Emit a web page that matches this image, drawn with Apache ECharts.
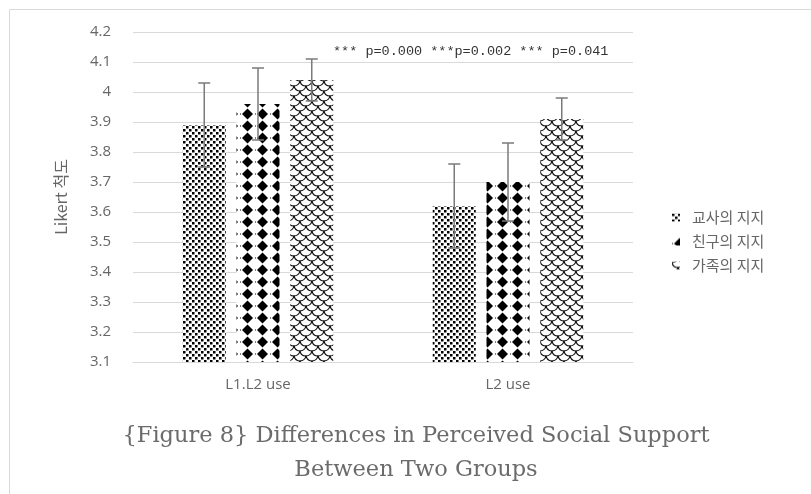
<!DOCTYPE html>
<html>
<head>
<meta charset="utf-8">
<script src="https://cdn.jsdelivr.net/npm/echarts@6/dist/echarts.min.js"></script>
<style>html,body{margin:0;padding:0;background:#fff;}#c{width:811px;height:494px;}</style>
</head>
<body>
<div id="c"></div>
<script>
const categories = ['L1.L2 use', 'L2 use'];
const seriesNames = ['교사의 지지', '친구의 지지', '가족의 지지'];
const teacherMeans = [3.89, 3.62];
const friendMeans = [3.96, 3.70];
const familyMeans = [4.04, 3.91];
const teacherErr = [0.14, 0.14];
const friendErr = [0.12, 0.13];
const familyErr = [0.07, 0.07];
const yTicks = { min: 3.1, max: 4.2, interval: 0.1 };
const annotation = '*** p=0.000 ***p=0.002 *** p=0.041';
const titleLines = ['{Figure 8} Differences in Perceived Social Support', 'Between Two Groups'];

function mk(w, h, draw) {
  const c = document.createElement('canvas');
  c.width = w; c.height = h;
  const g = c.getContext('2d');
  g.fillStyle = '#fff'; g.fillRect(0, 0, w, h);
  draw(g);
  return c;
}
const dotPat = mk(6, 6, g => {
  g.fillStyle = '#000';
  g.fillRect(0, 0, 2.5, 2.5);
  g.fillRect(3, 3, 2.5, 2.5);
});
const diamondPat = mk(15, 12, g => {
  g.fillStyle = '#000';
  g.beginPath();
  g.moveTo(7.5, 0.5); g.lineTo(13, 6); g.lineTo(7.5, 11.5); g.lineTo(2, 6); g.closePath();
  g.fill();
  g.fillRect(0, 5.5, 1, 1);
});
const scalePat = mk(12, 10, g => {
  g.strokeStyle = '#111'; g.lineWidth = 1.1;
  const cups = [[6, 0], [6, 10], [0, 5], [12, 5], [0, -5], [12, -5]];
  cups.forEach(([cx, cy]) => {
    g.beginPath(); g.arc(cx, cy, 6, 0.1, Math.PI - 0.1); g.stroke();
  });
});
const patterns = [dotPat, diamondPat, scalePat].map(c => ({ image: c, repeat: 'repeat' }));

const means = [teacherMeans, friendMeans, familyMeans];
const errs = [teacherErr, friendErr, familyErr];
const errData = [];
for (let s = 0; s < 3; s++) for (let i = 0; i < categories.length; i++) errData.push([i, s, means[s][i], errs[s][i]]);

const chart = echarts.init(document.getElementById('c'), null, { renderer: 'canvas' });
const barSeries = seriesNames.map((n, s) => ({
  name: n, type: 'bar', data: means[s],
  barWidth: '17.2%', barGap: '25%',
  itemStyle: { color: patterns[s] },
  z: 2
}));
chart.setOption({
  animation: false,
  backgroundColor: '#fff',
  grid: { left: 133, right: 178, top: 32, bottom: 132 },
  legend: {
    orient: 'vertical', left: 667, top: 205, itemGap: 9,
    itemWidth: 8, itemHeight: 8, icon: 'rect',
    data: seriesNames,
    textStyle: { color: '#666', fontSize: 15, fontFamily: 'Noto Sans CJK KR', padding: [0, 0, 0, 7] }
  },
  xAxis: {
    type: 'category', data: categories,
    axisLine: { lineStyle: { color: '#d9d9d9' } },
    axisTick: { show: false },
    axisLabel: { color: '#666', fontSize: 15, margin: 15, fontFamily: 'Open Sans' }
  },
  yAxis: {
    type: 'value', min: yTicks.min, max: yTicks.max, interval: yTicks.interval,
    name: 'Likert 척도', nameLocation: 'middle', nameGap: 64, nameRotate: 90,
    nameTextStyle: { color: '#666', fontSize: 16, fontFamily: 'Noto Sans CJK KR' },
    axisLine: { show: false }, axisTick: { show: false },
    axisLabel: { color: '#666', fontSize: 15, margin: 22, fontFamily: 'Open Sans' },
    splitLine: { lineStyle: { color: '#d9d9d9' } }
  },
  series: barSeries.concat([{
    type: 'custom', name: 'err', data: errData, z: 5,
    renderItem: function (params, api) {
      const ci = api.value(0), s = api.value(1), m = api.value(2), e = api.value(3);
      const band = api.size([1, 0])[0];
      const bw = band * 0.172;
      const off = (s - 1) * bw * 1.25;
      const top = api.coord([ci, m + e]);
      const bot = api.coord([ci, m - e]);
      const x = top[0] + off;
      const st = { stroke: '#7a7a7a', lineWidth: 1.5 };
      return { type: 'group', children: [
        { type: 'line', shape: { x1: x, y1: top[1], x2: x, y2: bot[1] }, style: st },
        { type: 'line', shape: { x1: x - 6, y1: top[1], x2: x + 6, y2: top[1] }, style: st },
        { type: 'line', shape: { x1: x - 6, y1: bot[1], x2: x + 6, y2: bot[1] }, style: st }
      ]};
    }
  }]),
  graphic: [
    { type: 'rect', shape: { x: 9.5, y: 9.5, width: 820, height: 500 }, style: { fill: 'none', stroke: '#d9d9d9', lineWidth: 1 }, silent: true },
    { type: 'text', x: 333, y: 44, style: { text: annotation, fill: '#333', font: '13.5px "Liberation Mono"' } },
    { type: 'text', x: 416, y: 425, style: { text: titleLines[0], fill: '#6b6b6b', font: '22.5px "DejaVu Serif"', textAlign: 'center' } },
    { type: 'text', x: 416, y: 459, style: { text: titleLines[1], fill: '#6b6b6b', font: '22.5px "DejaVu Serif"', textAlign: 'center' } }
  ]
});
</script>
</body>
</html>
